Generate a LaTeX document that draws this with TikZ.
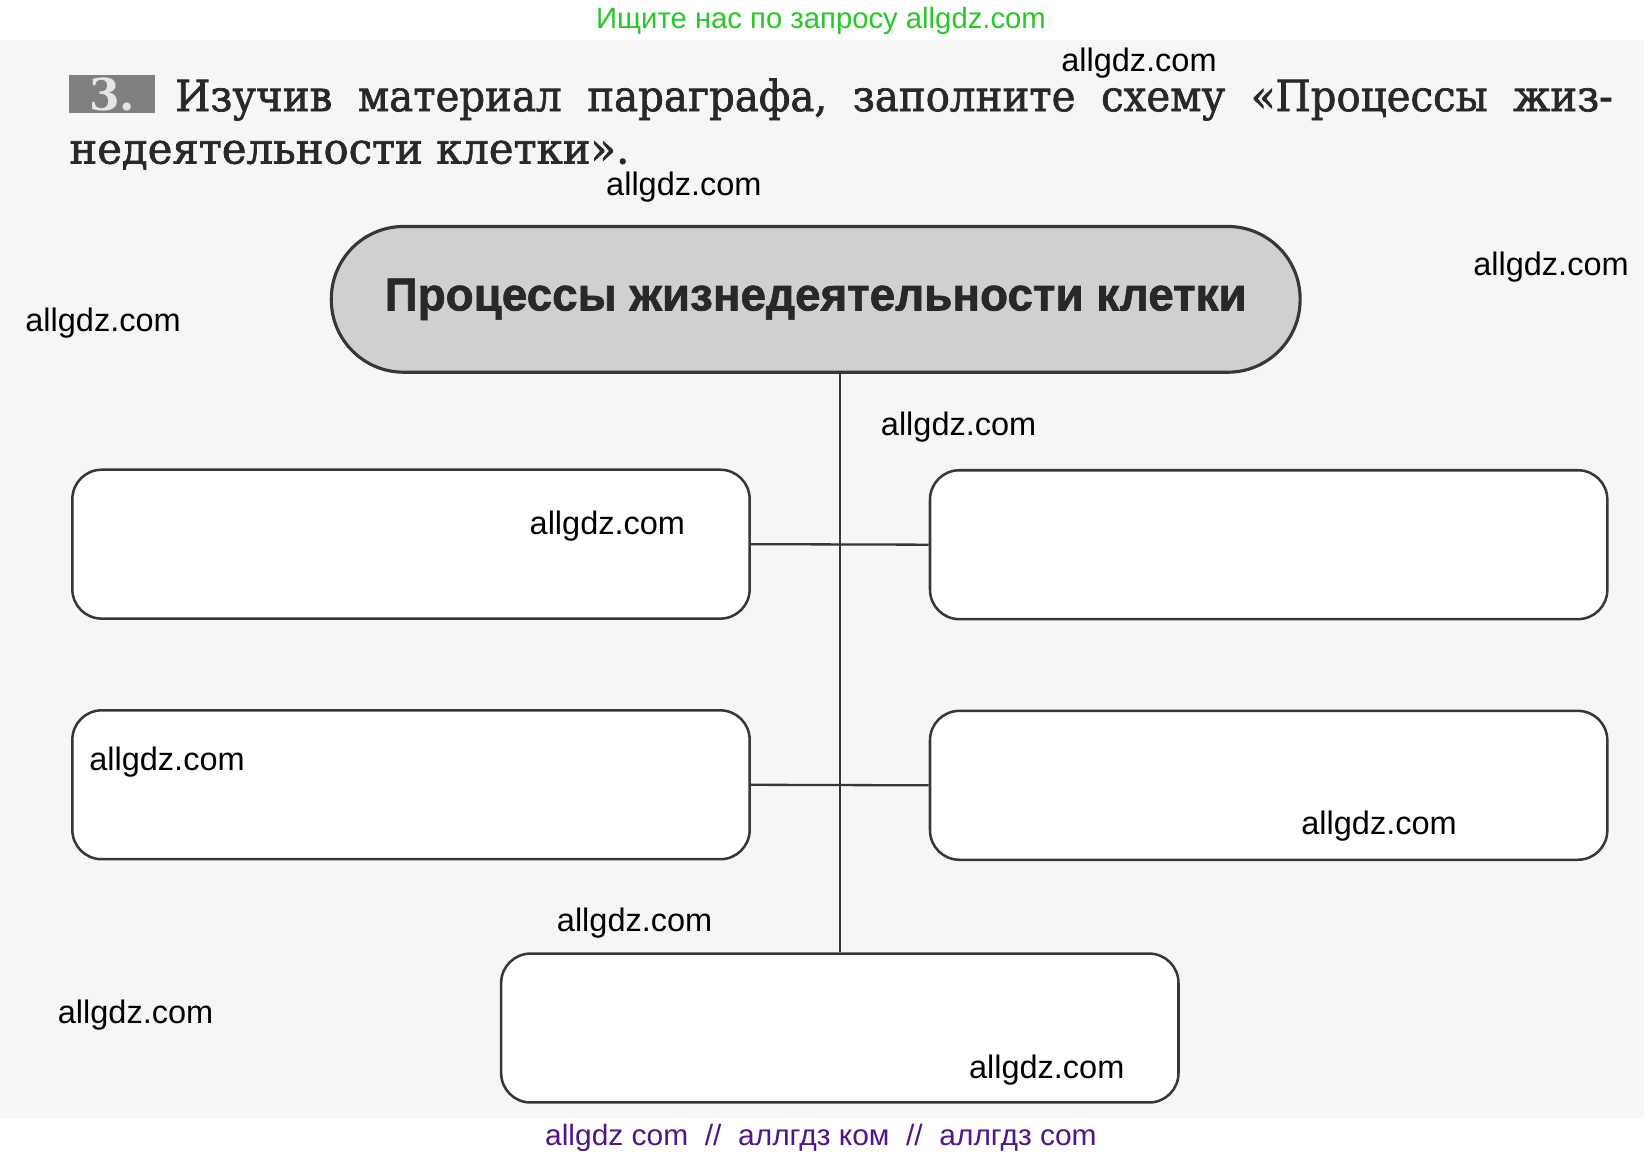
\documentclass[tikz,border=0pt]{standalone}
\usepackage{fontspec}
\usepackage{graphicx}
\setmainfont{DejaVu Serif}
\newfontfamily\headfont[FakeBold=1.6]{DejaVu Serif}
\newfontfamily\numfont{DejaVu Serif}
\newfontfamily\wmfont{Liberation Sans}
\newfontfamily\titlefont[FakeBold=1.4]{Liberation Sans Bold}
\definecolor{scanbg}{RGB}{246,246,246}
\definecolor{headc}{RGB}{40,40,40}
\definecolor{linec}{RGB}{55,55,55}
\definecolor{wmgreen}{RGB}{40,200,40}
\definecolor{wmpurple}{RGB}{80,20,140}
\definecolor{titlefill}{RGB}{208,208,208}
\definecolor{numfill}{RGB}{128,128,128}
\begin{document}
\begin{tikzpicture}[x=1pt,y=-1pt,
  wm/.style={font=\wmfont\fontsize{31}{31}\selectfont, inner sep=0pt, anchor=west, text=black},
  headline/.style={anchor=base west, inner sep=0pt, text=headc, font=\headfont\fontsize{41}{41}\selectfont},
  cellbox/.style={draw=linec, line width=2.4pt, fill=white, rounded corners=28pt,
    minimum width=646pt, minimum height=142pt, inner sep=0pt},
  conn/.style={draw=linec, line width=2.2pt}]
\useasboundingbox (0,0) rectangle (1568,1104);
\fill[white] (0,0) rectangle (1568,1104);
\fill[scanbg] (0,38) rectangle (1568,1066);

% top and bottom banners
\node[font=\wmfont\fontsize{28}{28}\selectfont, text=wmgreen, inner sep=0pt] (top) at (783,20)
  {\resizebox{429pt}{\height}{Ищите нас по запросу allgdz.com}};
\node[font=\wmfont\fontsize{28}{28}\selectfont, text=wmpurple, inner sep=0pt] (bottom) at (783,1085)
  {\resizebox{526pt}{\height}{allgdz com\ \ //\ \ аллгдз ком\ \ //\ \ аллгдз com}};

% heading
\node[fill=numfill, minimum width=82pt, minimum height=36pt, inner sep=0pt,
  text=white!90!black, font=\numfont\fontsize{42}{42}\selectfont\bfseries] (num) at (107,90) {3.};
\node[headline] (h1) at (167,106)
  {\resizebox{1371pt}{\height}{Изучив\ \ материал\ \ параграфа,\ \ заполните\ \ схему\ \ «Процессы\ \ жиз-}};
\node[headline] (h2) at (66,156)
  {\resizebox{534pt}{\height}{недеятельности клетки».}};

% main title
\node[draw=linec, line width=3pt, fill=titlefill, rounded corners=69pt,
  minimum width=924pt, minimum height=139pt, inner sep=0pt,
  text=headc, font=\titlefont\fontsize{44}{44}\selectfont] (main) at (778,285.5)
  {\resizebox{822pt}{\height}{Процессы жизнедеятельности клетки}};

% boxes
\node[cellbox] (L1) at (392,519) {};
\node[cellbox] (R1) at (1210,519.5) {};
\node[cellbox] (L2) at (392,748.5) {};
\node[cellbox] (R2) at (1210,749) {};
\node[cellbox] (B) at (801,980.5) {};

% connectors
\draw[conn] (main.south -| B.north) -- (B.north);
\draw[conn] (L1.east) -- (R1.west);
\draw[conn] (L2.east) -- (R2.west);

% watermarks
\node[wm] (w1) at (1012,60) {allgdz.com};
\node[wm] (w2) at (578,178) {allgdz.com};
\node[wm] (w3) at (1405,255) {allgdz.com};
\node[wm] (w4) at (24,308) {allgdz.com};
\node[wm] (w5) at (840,407) {allgdz.com};
\node[wm] (w6) at (505,502) {allgdz.com};
\node[wm] (w7) at (85,727) {allgdz.com};
\node[wm] (w8) at (1241,788) {allgdz.com};
\node[wm] (w9) at (531,880) {allgdz.com};
\node[wm] (w10) at (55,968) {allgdz.com};
\node[wm] (w11) at (924,1021) {allgdz.com};
\end{tikzpicture}
\end{document}
